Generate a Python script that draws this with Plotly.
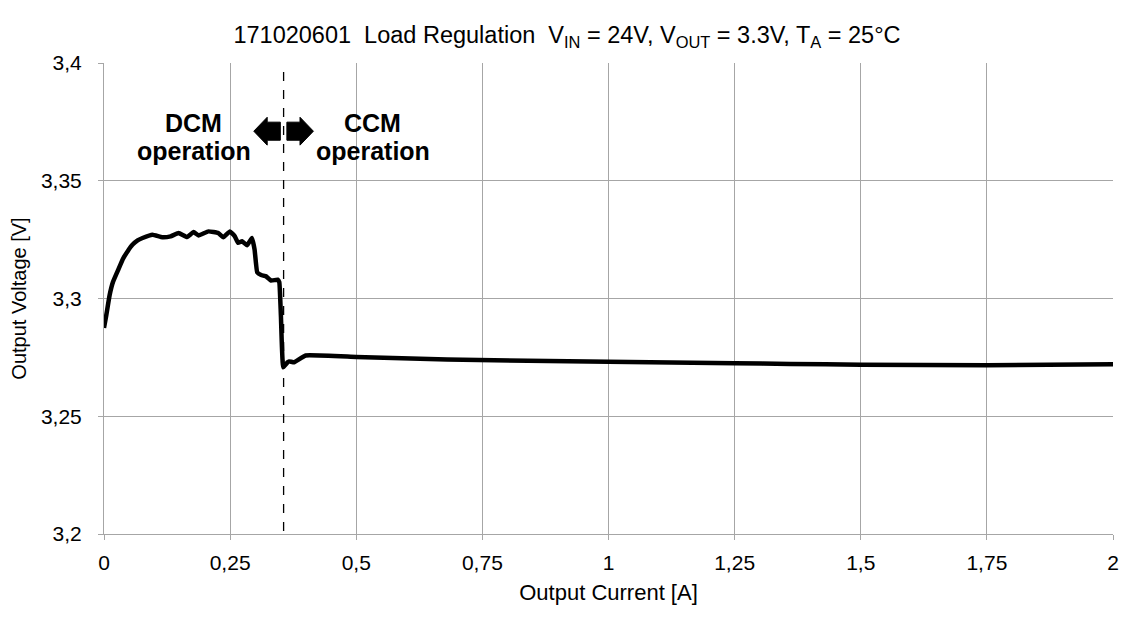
import plotly.graph_objects as go

# ---- data ----
current_a = [0.0, 0.0046, 0.0111, 0.0176, 0.0274, 0.0372, 0.047, 0.0568, 0.0666, 0.0764,
             0.096, 0.1156, 0.132, 0.148, 0.1646, 0.1777, 0.1875, 0.207, 0.2265, 0.2364,
             0.2495, 0.2593, 0.2658, 0.2737, 0.2835, 0.2933, 0.2985, 0.3037, 0.3115, 0.3213,
             0.3311, 0.3442, 0.3475, 0.3506, 0.3553, 0.3638, 0.367, 0.3769, 0.3996, 0.5,
             0.68, 1.0, 1.25, 1.36, 1.5, 1.75, 2.0]
voltage_v = [3.2875, 3.2930, 3.3014, 3.3069, 3.3118, 3.3167, 3.3201, 3.3229, 3.3247, 3.3257,
             3.3271, 3.3260, 3.3264, 3.3278, 3.3261, 3.3282, 3.3268, 3.3285, 3.3278, 3.3260,
             3.3285, 3.3264, 3.3236, 3.3243, 3.3226, 3.3257, 3.3208, 3.3111, 3.3100, 3.3094,
             3.3076, 3.3080, 3.3069, 3.2930, 3.2708, 3.2729, 3.2733, 3.2729, 3.2758, 3.2752,
             3.2741, 3.2731, 3.2725, 3.2722, 3.2719, 3.2717, 3.2721]

x_ticks = [0, 0.25, 0.5, 0.75, 1, 1.25, 1.5, 1.75, 2]
x_tick_labels = ["0", "0,25", "0,5", "0,75", "1", "1,25", "1,5", "1,75", "2"]
y_ticks = [3.2, 3.25, 3.3, 3.35, 3.4]
y_tick_labels = ["3,2", "3,25", "3,3", "3,35", "3,4"]

mode_boundary = 0.356
title_text = ("171020601  Load Regulation  V<sub>IN</sub> = 24V, V<sub>OUT</sub> = 3.3V, "
              "T<sub>A</sub> = 25°C")

# ---- layout constants (page has an 8px body margin; keep slack to avoid scrollbars) ----
W, H = 1118, 600
ML, MR, MT, MB = 96, 7, 55, 65
XR = (0, 2)
YR = (3.2, 3.4)
px_x = (XR[1] - XR[0]) / (W - ML - MR)
px_y = (YR[1] - YR[0]) / (H - MT - MB)
PLOT_LEFT_WIN, PLOT_TOP_WIN = 104, 63
FONT = "Liberation Sans, Arial, sans-serif"
GRID = "#a6a6a6"

fig = go.Figure()
fig.add_trace(go.Scatter(x=current_a, y=voltage_v, mode="lines",
                         line=dict(color="black", width=4.5, shape="spline", smoothing=0.3),
                         showlegend=False, hoverinfo="skip"))

# dashed boundary line
fig.add_shape(type="line", x0=mode_boundary, x1=mode_boundary, y0=YR[0] + 3 * px_y, y1=YR[1],
              xref="x", yref="y", line=dict(color="black", width=1.3, dash="dash"))

def wy(win_y):
    return YR[1] - (win_y - PLOT_TOP_WIN) * px_y
def wx(win_x):
    return XR[0] + (win_x - PLOT_LEFT_WIN) * px_x

# block arrows (pixel geometry converted to data units)
yc = wy(132.5)
hh = 14.2 * px_y
sh = 9.2 * px_y
def arrow(direction):
    s = direction
    x_s = mode_boundary + s * 3.3 * px_x
    x_b = mode_boundary + s * 16.5 * px_x
    x_t = mode_boundary + s * 30 * px_x
    return (f"M {x_s} {yc - sh} L {x_b} {yc - sh} L {x_b} {yc - hh} L {x_t} {yc} "
            f"L {x_b} {yc + hh} L {x_b} {yc + sh} L {x_s} {yc + sh} Z")
for d in (-1, 1):
    fig.add_shape(type="path", path=arrow(d), xref="x", yref="y",
                  fillcolor="black", line=dict(color="black", width=1))

label_font = dict(family=FONT, size=25, color="black")
for cx, word in ((194, "DCM"), (374, "CCM")):
    fig.add_annotation(x=wx(cx), y=wy(124.5), xref="x", yref="y", text=f"<b>{word}</b>",
                       showarrow=False, font=label_font, yanchor="middle")
    fig.add_annotation(x=wx(cx + 1), y=wy(152.8), xref="x", yref="y", text="<b>operation</b>",
                       showarrow=False, font=label_font, yanchor="middle")

fig.update_layout(
    width=W, height=H,
    margin=dict(l=ML, r=MR, t=MT, b=MB),
    paper_bgcolor="white", plot_bgcolor="white",
    font=dict(family=FONT, size=21, color="black"),
    title=dict(text=title_text, x=0.5, xref="container", xanchor="center",
               y=1 - 27 / H, yref="container", yanchor="middle",
               font=dict(family=FONT, size=23.5, color="black")),
    xaxis=dict(range=list(XR), tickvals=x_ticks, ticktext=x_tick_labels,
               showgrid=True, gridcolor=GRID, gridwidth=1,
               showline=True, linecolor=GRID, linewidth=1,
               ticks="outside", ticklen=5, tickcolor=GRID, ticklabelstandoff=5,
               tickfont=dict(size=21), zeroline=False,
               title=dict(text="Output Current [A]", standoff=11, font=dict(size=22))),
    yaxis=dict(range=list(YR), tickvals=y_ticks, ticktext=y_tick_labels,
               showgrid=True, gridcolor=GRID, gridwidth=1,
               showline=True, linecolor=GRID, linewidth=1,
               ticks="outside", ticklen=5, tickcolor=GRID, ticklabelstandoff=12,
               tickfont=dict(size=21), zeroline=False,
               title=dict(text="Output Voltage [V]", standoff=10, font=dict(size=20))),
)

fig.write_html("out.html", config={"displayModeBar": False})
